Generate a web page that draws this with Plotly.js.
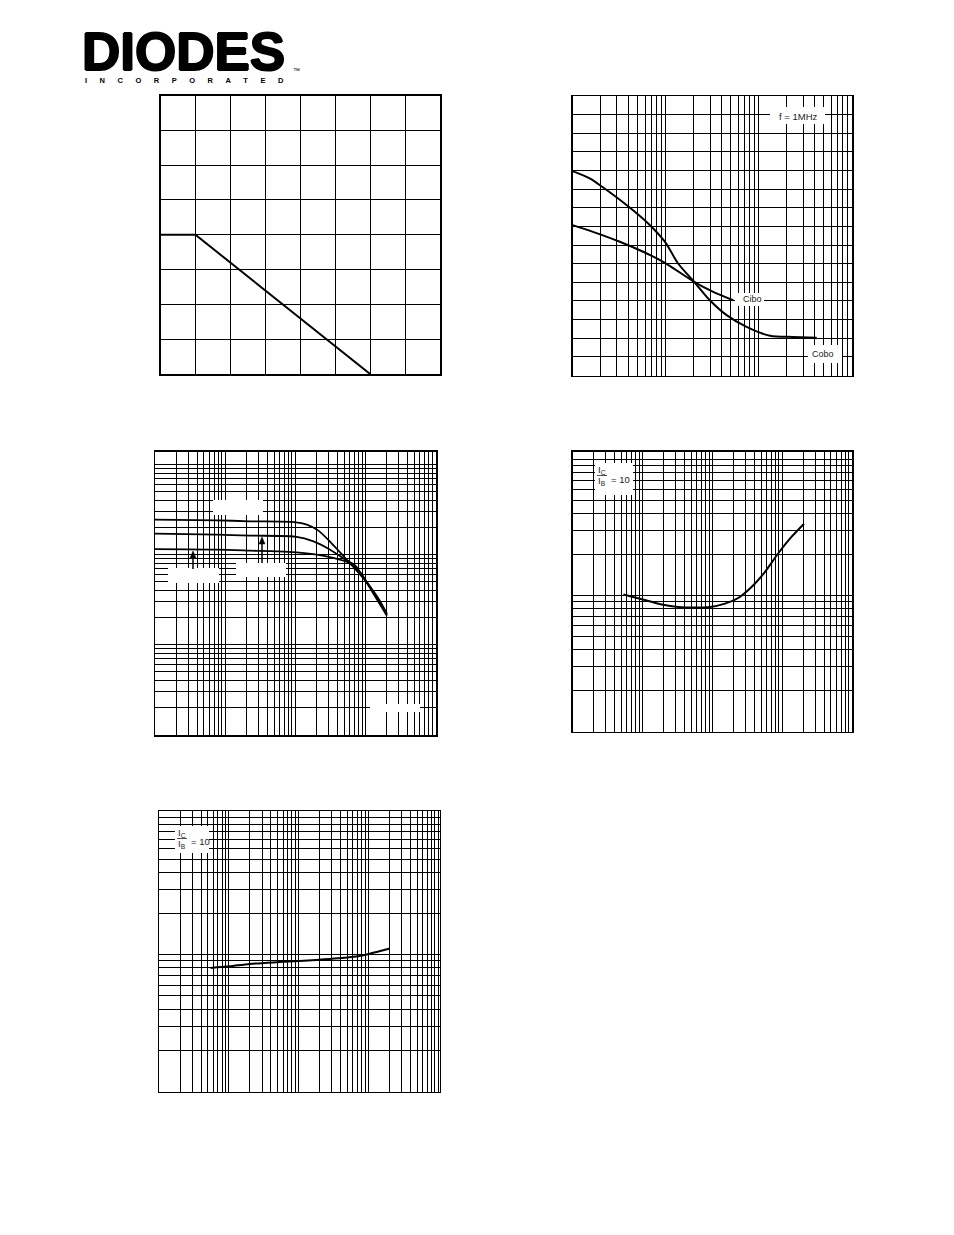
<!DOCTYPE html>
<html><head><meta charset="utf-8">
<script src="https://cdn.plot.ly/plotly-3.0.1.min.js"></script>
<style>html,body{margin:0;padding:0;background:#fff;}#chart{width:954px;height:1235px;}</style>
</head><body><div id="chart"></div>
<script>
// ---- Chart 1: power derating (linear grid 8x8)
const derateTemp = [0, 25, 150];
const deratePower = [200, 200, 0];
// ---- Chart 2: capacitance vs reverse voltage (f = 1MHz)
const capVoltA = [0.1, 0.153, 0.208, 0.38, 0.649, 0.98, 1.36, 2.02, 2.98, 4.51, 7.39, 13.2, 23.4, 41.8];
const capValA  = [10.97, 10.58, 10.13, 9.15, 8.16, 7.18, 6.01, 5.03, 4.04, 3.24, 2.61, 2.13, 2.07, 2.02];
const capVoltB = [0.1, 0.166, 0.322, 0.573, 0.98, 2.02, 3.24, 5.31];
const capValB  = [8.07, 7.71, 7.18, 6.64, 6.05, 5.03, 4.49, 4.04];
const capLabels = ["f = 1MHz", "Cibo", "Cobo"];
// ---- Chart 3: hFE vs IC, three temperatures
const hfeIcT = [0.1, 0.76, 2.28, 9.68, 14.7, 21.5, 33.4, 57.7, 100, 155, 204];
const hfeT   = [245, 240.5, 234.4, 229.6, 215.4, 184.8, 132.5, 83.6, 51.4, 31.6, 21.5];
const hfeIcM = [0.1, 0.76, 2.28, 10, 18.3, 31.6, 51.8, 71.9, 100, 155, 204];
const hfeM   = [171, 166.8, 162.6, 158.5, 140.6, 113.6, 88, 75.5, 52.7, 32.4, 22.1];
const hfeIcB = [0.1, 0.76, 2.28, 8.02, 20.4, 35.2, 57.7, 84.9, 126, 204];
const hfeB   = [115, 113.6, 110.8, 107.2, 100, 91.9, 81.5, 63.1, 38.8, 21];
// ---- Chart 4: VCE(sat) vs IC
const vceIc = [0.536, 0.98, 1.89, 3.27, 5.66, 9.27, 15.2, 23.5, 36.5, 56.6, 87.7, 136, 206];
const vceSat = [0.102, 0.094, 0.086, 0.0824, 0.0816, 0.0824, 0.0873, 0.096, 0.1156, 0.149, 0.204, 0.27, 0.338];
// ---- Chart 5: VBE(sat) vs IC
const vbeIc = [0.548, 1.03, 2.0, 5.97, 17.9, 53.5, 92.7, 143.6, 204];
const vbeSat = [0.80, 0.822, 0.856, 0.886, 0.916, 0.957, 1.0, 1.059, 1.108];
const ratioLabel = "= 10";
const logoText = "DIODES";
const logoSub = "INCORPORATED";

const W = 954, H = 1235;
const fx = v => v / W;
const fy = v => 1 - v / H;
function logTicks(a, b) {
  const t = [];
  for (let d = a; d < b; d++) for (let m = 1; m <= 9; m++) t.push(m * Math.pow(10, d));
  t.push(Math.pow(10, b));
  return t;
}
const base = {showgrid:true, gridcolor:'#000', gridwidth:1, showline:true, mirror:true,
  linecolor:'#000', linewidth:1.5, zeroline:false, showticklabels:false, ticks:'', fixedrange:true};
function ax(o){ return Object.assign({}, base, o); }

const lineStyle = {color:'#000', width:2};
const smooth = o => Object.assign({shape:'spline', smoothing:0.8}, o);
const traces = [
  {x:derateTemp, y:deratePower, xaxis:'x', yaxis:'y', mode:'lines', line:lineStyle},
  {x:capVoltA, y:capValA, xaxis:'x2', yaxis:'y2', mode:'lines', line:smooth(lineStyle)},
  {x:capVoltB, y:capValB, xaxis:'x2', yaxis:'y2', mode:'lines', line:smooth(lineStyle)},
  {x:hfeIcT, y:hfeT, xaxis:'x3', yaxis:'y3', mode:'lines', line:smooth({color:'#000', width:1.8})},
  {x:hfeIcM, y:hfeM, xaxis:'x3', yaxis:'y3', mode:'lines', line:smooth({color:'#000', width:1.8})},
  {x:hfeIcB, y:hfeB, xaxis:'x3', yaxis:'y3', mode:'lines', line:smooth({color:'#000', width:1.8})},
  {x:vceIc, y:vceSat, xaxis:'x4', yaxis:'y4', mode:'lines', line:smooth(lineStyle)},
  {x:vbeIc, y:vbeSat, xaxis:'x5', yaxis:'y5', mode:'lines', line:smooth(lineStyle)}
];

function whiteBox(x0, y0, x1, y1) {
  return {type:'rect', xref:'paper', yref:'paper', x0:fx(x0), x1:fx(x1), y0:fy(y1), y1:fy(y0),
    fillcolor:'#fff', line:{width:0}, layer:'above'};
}
function hline(x0, x1, y) {
  return {type:'line', xref:'paper', yref:'paper', x0:fx(x0), x1:fx(x1), y0:fy(y), y1:fy(y),
    line:{color:'#222', width:0.8}, layer:'above'};
}
function arrowShapes(x, yHead, yTail) {
  return [
    {type:'line', xref:'paper', yref:'paper', x0:fx(x), x1:fx(x), y0:fy(yTail), y1:fy(yHead + 4),
      line:{color:'#000', width:1.5}, layer:'above'},
    {type:'path', xref:'paper', yref:'paper',
      path:'M ' + fx(x - 3) + ' ' + fy(yHead + 7) + ' L ' + fx(x) + ' ' + fy(yHead) + ' L ' + fx(x + 3) + ' ' + fy(yHead + 7) + ' Z',
      fillcolor:'#000', line:{color:'#000', width:0.5}, layer:'above'}
  ];
}
const shapes = [
  whiteBox(770, 107, 825, 124), whiteBox(735, 293, 764, 306), whiteBox(808, 345, 842, 363),
  whiteBox(213, 500, 263, 515), whiteBox(168, 568, 219, 583), whiteBox(236, 563, 286, 577), whiteBox(370, 704, 420, 712),
  whiteBox(595, 463, 633, 495), whiteBox(175, 826, 209, 853),
  hline(597, 607, 475.5), hline(177, 187, 838.5)
].concat(arrowShapes(193, 551, 569), arrowShapes(262, 537, 563));

const lblFont = {family:'Liberation Sans, Arial, sans-serif', size:9, color:'#222'};
function txt(t, x, y, o) {
  return Object.assign({text:t, xref:'paper', yref:'paper', x:fx(x), y:fy(y), showarrow:false,
    xanchor:'center', yanchor:'middle', font:lblFont, borderpad:0}, o || {});
}
const fracFont = Object.assign({}, lblFont, {size:9.5});
const nb = '\u00A0\u00A0\u00A0\u00A0\u00A0\u00A0';
const annotations = [
  txt(capLabels[0], 798, 117, {font:Object.assign({}, lblFont, {size:9.5})}),
  txt(capLabels[1], 752.5, 299.5),
  txt(capLabels[2], 823, 353.5),
  txt('I<sub>C</sub>', 602, 470, {font:fracFont}), txt('I<sub>B</sub>', 602, 481, {font:fracFont}),
  txt(ratioLabel, 610, 479, {xanchor:'left', font:fracFont}),
  txt('I<sub>C</sub>', 182, 833, {font:fracFont}), txt('I<sub>B</sub>', 182, 844, {font:fracFont}),
  txt(ratioLabel, 190, 842, {xanchor:'left', font:fracFont}),
  txt(logoText, 183.5, 51, {font:{family:'Liberation Sans, Arial, sans-serif', size:53, color:'#000', weight:900,
      shadow:'1px 0 0 #000, -1px 0 0 #000, 0 1px 0 #000, 0 -1px 0 #000'}}),
  txt('™', 296, 71, {font:{family:'Liberation Sans, Arial, sans-serif', size:7, color:'#000'}}),
  txt(logoSub.split('').join(nb), 84, 80.8, {xanchor:'left',
      font:{family:'Liberation Sans, Arial, sans-serif', size:7.5, color:'#000', weight:'bold'}})
];

const layout = {
  width:W, height:H, margin:{l:0, r:0, t:0, b:0}, showlegend:false,
  paper_bgcolor:'#fff', plot_bgcolor:'#fff',
  xaxis: ax({domain:[fx(160.5), fx(440)], range:[0, 200], dtick:25, anchor:'y'}),
  yaxis: ax({domain:[fy(374), fy(95.5)], range:[0, 400], dtick:50, anchor:'x'}),
  xaxis2: ax({type:'log', domain:[fx(572.5), fx(852)], range:[-1, 2], tickmode:'array', tickvals:logTicks(-1, 2), anchor:'y2'}),
  yaxis2: ax({domain:[fy(375.5), fy(96)], range:[0, 15], dtick:1, anchor:'x2'}),
  xaxis3: ax({type:'log', domain:[fx(155), fx(436)], range:[-1, 3.01], tickmode:'array', tickvals:logTicks(-1, 3), anchor:'y3'}),
  yaxis3: ax({type:'log', domain:[fy(735), fy(451.5)], range:[0, 3.144], tickmode:'array', tickvals:logTicks(0, 4), anchor:'x3'}),
  xaxis4: ax({type:'log', domain:[fx(572.5), fx(852)], range:[-1, 3], tickmode:'array', tickvals:logTicks(-1, 3), anchor:'y4'}),
  yaxis4: ax({type:'log', domain:[fy(731.5), fy(451.5)], range:[-2, 0.06], tickmode:'array', tickvals:logTicks(-2, 1), anchor:'x4'}),
  xaxis5: ax({type:'log', domain:[fx(159), fx(439.5)], range:[-1, 3.02], tickmode:'array', tickvals:logTicks(-1, 4), anchor:'y5'}),
  yaxis5: ax({type:'log', domain:[fy(1091.5), fy(811)], range:[-1, 1.05], tickmode:'array', tickvals:logTicks(-1, 2), anchor:'x5'}),
  shapes: shapes, annotations: annotations
};
Plotly.newPlot('chart', traces, layout, {staticPlot:true, displayModeBar:false});
</script></body></html>
